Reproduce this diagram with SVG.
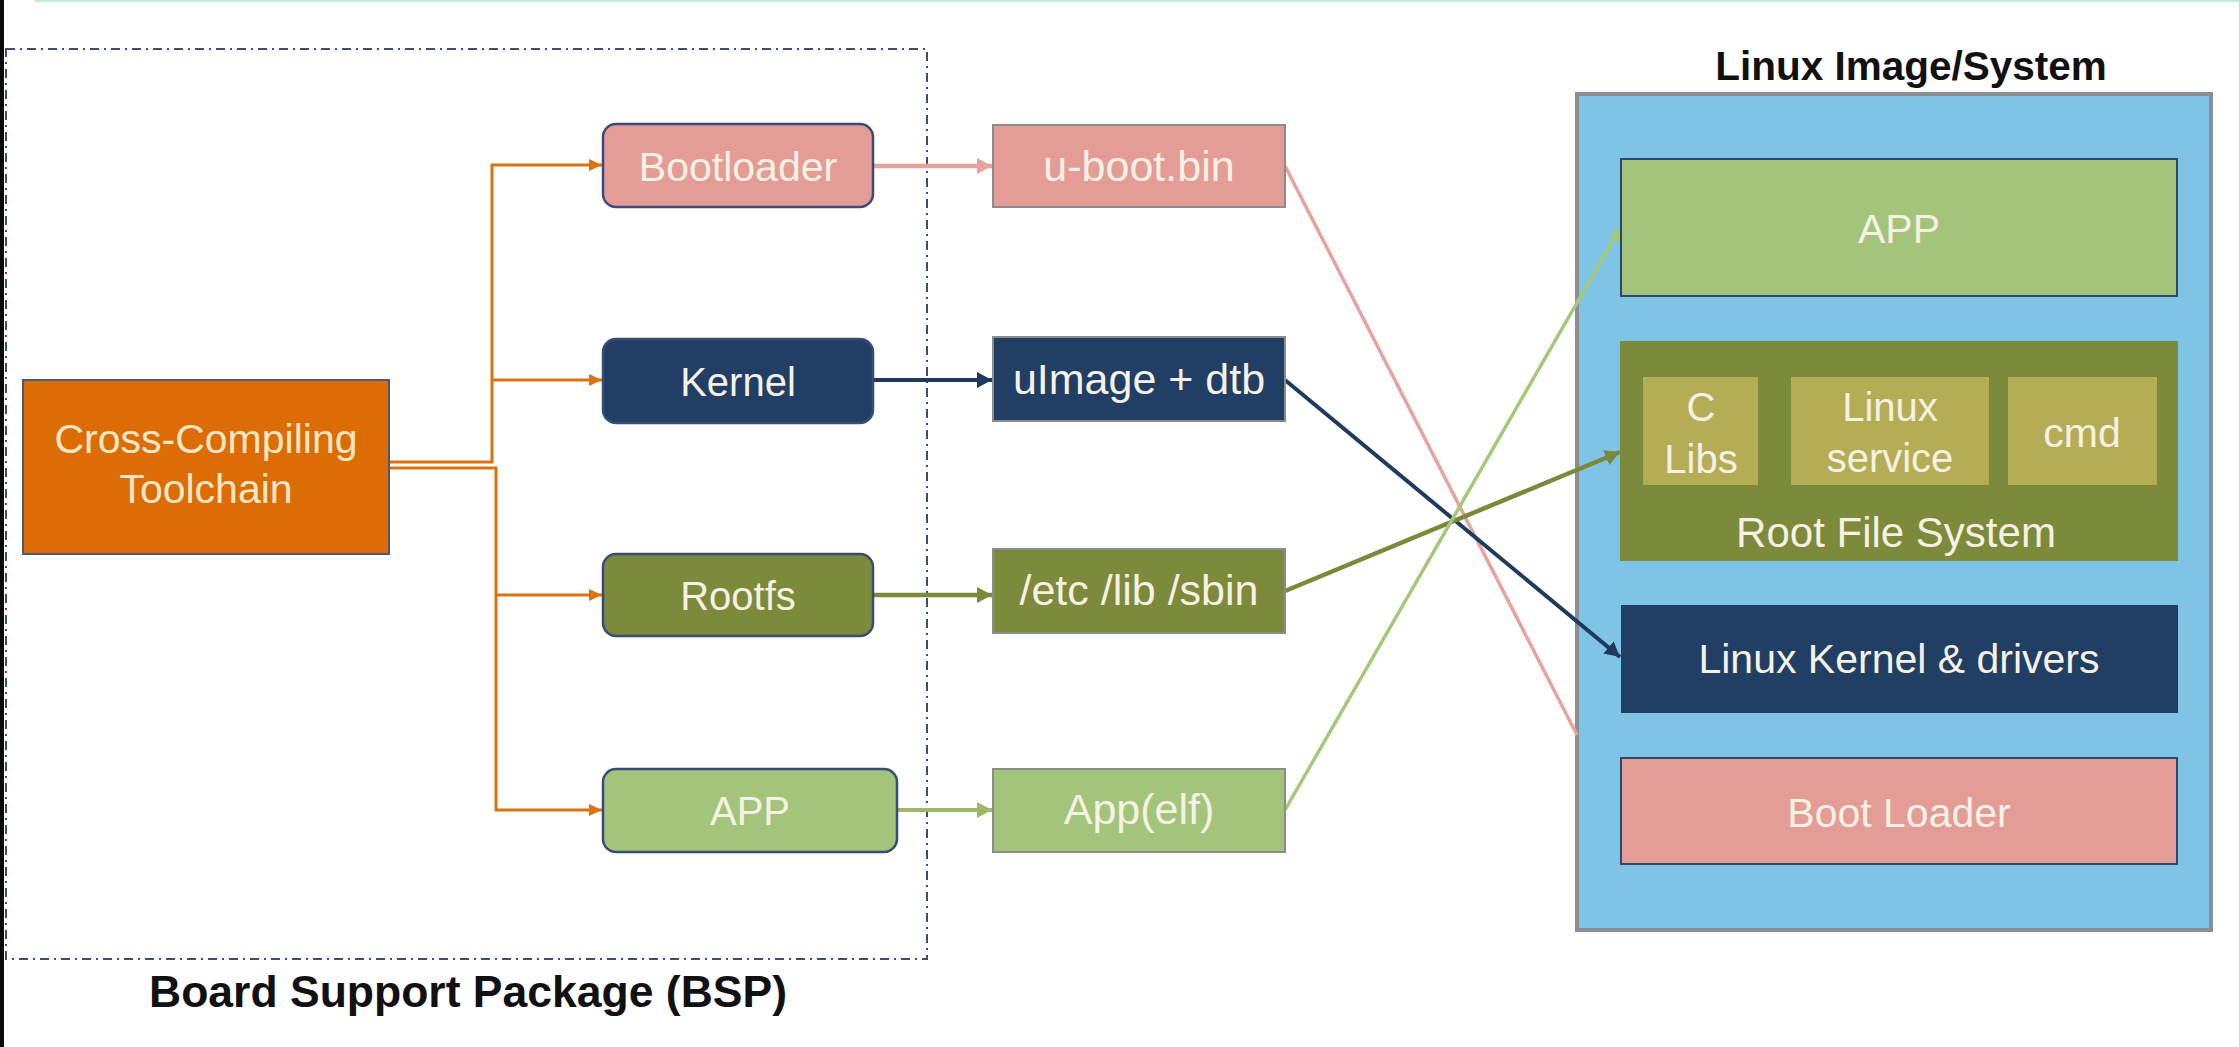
<svg xmlns="http://www.w3.org/2000/svg" width="2239" height="1047" viewBox="0 0 2239 1047">
<style>
  .lbl{font-family:"Liberation Sans",Arial,sans-serif;fill:#f6f1e3;text-anchor:middle}
  .title{font-family:"Liberation Sans",Arial,sans-serif;font-weight:bold;fill:#111;text-anchor:middle}
  .pink{fill:#e39d96}
  .navy{fill:#213f64}
  .olive{fill:#7b8a3b}
  .green{fill:#a2c57b}
  .khaki{fill:#b5ad55}
  .rnd{stroke:#3b4b78;stroke-width:2.5}
  .sq{stroke:#8c8c8c;stroke-width:2}
  .c{fill:none}
</style>
<defs>
  <marker id="aO" markerUnits="userSpaceOnUse" markerWidth="14" markerHeight="14" refX="13" refY="7" orient="auto"><path d="M0,1 L13,7 L0,13 Z" fill="#d9730f"/></marker>
  <marker id="aP" markerUnits="userSpaceOnUse" markerWidth="16" markerHeight="18" refX="15" refY="9" orient="auto"><path d="M0,1 L15,9 L0,17 Z" fill="#e8a39c"/></marker>
  <marker id="aN" markerUnits="userSpaceOnUse" markerWidth="16" markerHeight="18" refX="15" refY="9" orient="auto"><path d="M0,1 L15,9 L0,17 Z" fill="#1f3a5f"/></marker>
  <marker id="aL" markerUnits="userSpaceOnUse" markerWidth="16" markerHeight="18" refX="15" refY="9" orient="auto"><path d="M0,1 L15,9 L0,17 Z" fill="#7a8a3a"/></marker>
  <marker id="aG" markerUnits="userSpaceOnUse" markerWidth="16" markerHeight="18" refX="15" refY="9" orient="auto"><path d="M0,1 L15,9 L0,17 Z" fill="#9fb868"/></marker>
  <marker id="aG2" markerUnits="userSpaceOnUse" markerWidth="14" markerHeight="14" refX="13" refY="7" orient="auto"><path d="M0,1 L13,7 L0,13 Z" fill="#a5c87a"/></marker>
</defs>
<rect x="0" y="0" width="2239" height="1047" fill="#ffffff"/>
<rect x="35" y="0" width="2204" height="2" fill="#c2ecd3"/>
<rect x="0" y="0" width="4" height="1047" fill="#0a0a0a"/>

<g id="bsp-frame">
  <rect x="6" y="49" width="921" height="910" fill="none" stroke="#3d4c70" stroke-width="2" stroke-dasharray="9 5 2 5"/>
  <text class="title" x="468" y="1007" font-size="44.5">Board Support Package (BSP)</text>
</g>

<g id="linux-image">
  <text class="title" x="1911" y="80" font-size="40.5">Linux Image/System</text>
  <rect x="1577" y="94" width="634" height="836" fill="#7fc4e4" stroke="#8a8f96" stroke-width="4"/>
</g>

<g id="connectors" class="c">
  <path d="M389,462 H492 V165 H602" stroke="#d9730f" stroke-width="3" marker-end="url(#aO)"/>
  <path d="M492,380 H602" stroke="#d9730f" stroke-width="3" marker-end="url(#aO)"/>
  <path d="M389,468 H496 V810 H602" stroke="#d9730f" stroke-width="3" marker-end="url(#aO)"/>
  <path d="M496,595 H602" stroke="#d9730f" stroke-width="3" marker-end="url(#aO)"/>
  <path d="M873,166 H992" stroke="#e8a39c" stroke-width="4.5" marker-end="url(#aP)"/>
  <path d="M873,380 H992" stroke="#1f3a5f" stroke-width="4" marker-end="url(#aN)"/>
  <path d="M873,595 H992" stroke="#7a8a3a" stroke-width="4.5" marker-end="url(#aL)"/>
  <path d="M897,810 H992" stroke="#9fb868" stroke-width="4" marker-end="url(#aG)"/>
  <path d="M1285,166 L1577,735" stroke="#e8a39c" stroke-width="3.5"/>
  <path d="M1285,380 L1620,657" stroke="#1f3a5f" stroke-width="4" marker-end="url(#aN)"/>
  <path d="M1285,591 L1620,452" stroke="#7a8a3a" stroke-width="4.5" marker-end="url(#aL)"/>
  <path d="M1285,810 L1620,228" stroke="#a5c87a" stroke-width="3.5" marker-end="url(#aG2)"/>
</g>

<g id="toolchain">
  <rect x="23" y="380" width="366" height="174" fill="#dc6d04" stroke="#4b5877" stroke-width="2"/>
  <text class="lbl" x="206" y="453" font-size="41" style="fill:#f8e7c6">Cross-Compiling</text>
  <text class="lbl" x="206" y="503" font-size="41" style="fill:#f8e7c6">Toolchain</text>
</g>

<g id="bootloader">
  <rect class="pink rnd" x="603" y="124" width="270" height="83" rx="13"/>
  <text class="lbl" x="738" y="181" font-size="41">Bootloader</text>
</g>
<g id="kernel">
  <rect class="navy rnd" x="603" y="339" width="270" height="84" rx="13"/>
  <text class="lbl" x="738" y="396" font-size="40">Kernel</text>
</g>
<g id="rootfs">
  <rect class="olive rnd" x="603" y="554" width="270" height="82" rx="13"/>
  <text class="lbl" x="738" y="610" font-size="40">Rootfs</text>
</g>
<g id="app">
  <rect class="green rnd" x="603" y="769" width="294" height="83" rx="13"/>
  <text class="lbl" x="750" y="825" font-size="40">APP</text>
</g>

<g id="u-boot-bin">
  <rect class="pink sq" x="993" y="125" width="292" height="82"/>
  <text class="lbl" x="1139" y="181" font-size="43">u-boot.bin</text>
</g>
<g id="uimage-dtb">
  <rect class="navy sq" x="993" y="337" width="292" height="84"/>
  <text class="lbl" x="1139" y="394" font-size="43">uImage + dtb</text>
</g>
<g id="etc-lib-sbin">
  <rect class="olive sq" x="993" y="549" width="292" height="84"/>
  <text class="lbl" x="1139" y="605" font-size="43">/etc /lib /sbin</text>
</g>
<g id="app-elf">
  <rect class="green sq" x="993" y="769" width="292" height="83"/>
  <text class="lbl" x="1139" y="824" font-size="43">App(elf)</text>
</g>

<g id="sys-app">
  <rect class="green" x="1621" y="159" width="556" height="137" stroke="#2c4a6e" stroke-width="2"/>
  <text class="lbl" x="1899" y="243" font-size="41">APP</text>
</g>
<g id="root-file-system">
  <rect class="olive" x="1620" y="341" width="558" height="220"/>
  <text class="lbl" x="1896" y="547" font-size="42">Root File System</text>
</g>
<g id="c-libs">
  <rect class="khaki" x="1643" y="377" width="115" height="108"/>
  <text class="lbl" x="1701" y="421" font-size="40">C</text>
  <text class="lbl" x="1701" y="473" font-size="40">Libs</text>
</g>
<g id="linux-service">
  <rect class="khaki" x="1791" y="377" width="198" height="108"/>
  <text class="lbl" x="1890" y="421" font-size="40">Linux</text>
  <text class="lbl" x="1890" y="472" font-size="40">service</text>
</g>
<g id="cmd">
  <rect class="khaki" x="2008" y="377" width="149" height="108"/>
  <text class="lbl" x="2082" y="447" font-size="41">cmd</text>
</g>
<g id="linux-kernel-drivers">
  <rect class="navy" x="1621" y="605" width="557" height="108"/>
  <text class="lbl" x="1899" y="673" font-size="41">Linux Kernel &amp; drivers</text>
</g>
<g id="boot-loader">
  <rect class="pink" x="1621" y="758" width="556" height="106" stroke="#2c4a6e" stroke-width="2"/>
  <text class="lbl" x="1899" y="827" font-size="41">Boot Loader</text>
</g>
</svg>
